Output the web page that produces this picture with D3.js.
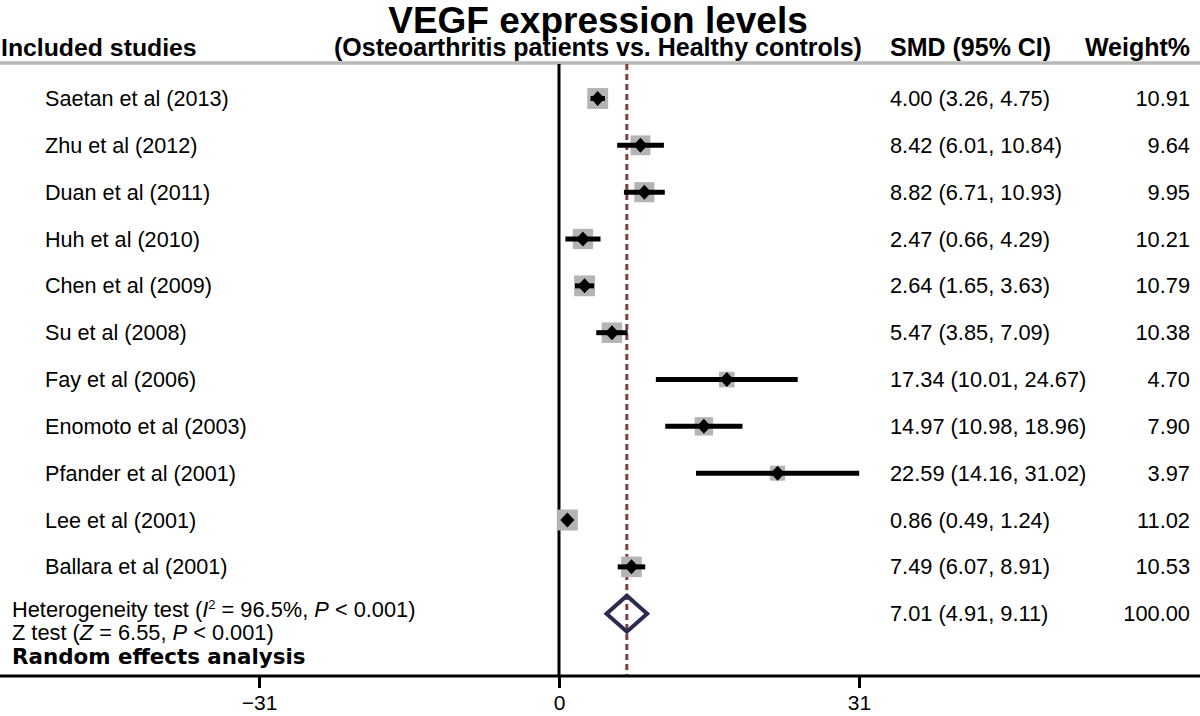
<!DOCTYPE html>
<html><head><meta charset="utf-8">
<script src="https://cdn.jsdelivr.net/npm/d3@7"></script>
<style>
body{margin:0;background:#fff;}
svg{display:block;font-family:"Liberation Sans",Arial,sans-serif;}
</style></head>
<body>
<svg id="c" width="1200" height="716"></svg>
<script>
const studies = ["Saetan et al (2013)","Zhu et al (2012)","Duan et al (2011)","Huh et al (2010)","Chen et al (2009)","Su et al (2008)","Fay et al (2006)","Enomoto et al (2003)","Pfander et al (2001)","Lee et al (2001)","Ballara et al (2001)"];
const smd    = [4.00, 8.42, 8.82, 2.47, 2.64, 5.47, 17.34, 14.97, 22.59, 0.86, 7.49];
const lower  = [3.26, 6.01, 6.71, 0.66, 1.65, 3.85, 10.01, 10.98, 14.16, 0.49, 6.07];
const upper  = [4.75, 10.84, 10.93, 4.29, 3.63, 7.09, 24.67, 18.96, 31.02, 1.24, 8.91];
const weight = [10.91, 9.64, 9.95, 10.21, 10.79, 10.38, 4.70, 7.90, 3.97, 11.02, 10.53];
const pooled = {smd: 7.01, lower: 4.91, upper: 9.11, weight: 100.00};
const tickValues = [-31, 0, 31];
const title = "VEGF expression levels";
const subtitle = "(Osteoarthritis patients vs. Healthy controls)";

const svg = d3.select("#c");
const x = d3.scaleLinear().domain([-31, 31]).range([259, 859]);
const y = d3.scaleLinear().domain([0, 11]).range([98.5, 613.7]);
const box = d3.scaleLinear().domain([3.97, 11.02]).range([15, 21]);
const f2 = d3.format(".2f");
const axisY = 676, topY = 64;

// title & headers
svg.append("text").attr("x", 598).attr("y", 33).attr("text-anchor","middle")
  .attr("font-size", 37).attr("font-weight","bold").text(title);
svg.append("text").attr("x", 1).attr("y", 56).attr("font-size", 24.8).attr("font-weight","bold").text("Included studies");
svg.append("text").attr("x", 598).attr("y", 56).attr("text-anchor","middle").attr("font-size", 25).attr("font-weight","bold").text(subtitle);
svg.append("text").attr("x", 890).attr("y", 56).attr("font-size", 25).attr("font-weight","bold").text("SMD (95% CI)");
svg.append("text").attr("x", 1190).attr("y", 56).attr("text-anchor","end").attr("font-size", 25).attr("font-weight","bold").text("Weight%");
svg.append("line").attr("x1",0).attr("x2",1200).attr("y1",63).attr("y2",63).attr("stroke","#b8b8b8").attr("stroke-width",3.5);

// zero line and pooled dashed line
svg.append("line").attr("x1",x(0)).attr("x2",x(0)).attr("y1",topY).attr("y2",axisY).attr("stroke","#000").attr("stroke-width",3);
svg.append("line").attr("x1",x(pooled.smd)).attr("x2",x(pooled.smd)).attr("y1",topY).attr("y2",axisY)
  .attr("stroke","#8b3a42").attr("stroke-width",3).attr("stroke-dasharray","6,4");

// study rows
const rows = svg.append("g").selectAll("g").data(studies.map((s,i)=>({s,i}))).join("g");
rows.append("rect")
  .attr("x", d=>x(smd[d.i]) - box(weight[d.i])/2)
  .attr("y", d=>y(d.i) - box(weight[d.i])/2)
  .attr("width", d=>box(weight[d.i])).attr("height", d=>box(weight[d.i]))
  .attr("fill","#b4b4b4");
rows.append("line")
  .attr("x1", d=>x(lower[d.i])).attr("x2", d=>x(upper[d.i]))
  .attr("y1", d=>y(d.i)).attr("y2", d=>y(d.i))
  .attr("stroke","#000").attr("stroke-width",5);
rows.append("path")
  .attr("d", d=>{const cx=x(smd[d.i]), cy=y(d.i); return `M${cx-7},${cy}L${cx},${cy-7.5}L${cx+7},${cy}L${cx},${cy+7.5}Z`;})
  .attr("fill","#000");
rows.append("text").attr("x",45).attr("y",d=>y(d.i)).attr("dy","0.35em").attr("font-size",21.6).text(d=>d.s);
rows.append("text").attr("x",890).attr("y",d=>y(d.i)).attr("dy","0.35em").attr("font-size",21.8)
  .text(d=>`${f2(smd[d.i])} (${f2(lower[d.i])}, ${f2(upper[d.i])})`);
rows.append("text").attr("x",1190).attr("y",d=>y(d.i)).attr("dy","0.35em").attr("text-anchor","end").attr("font-size",21.8)
  .text(d=>f2(weight[d.i]));

// pooled
const py = y(11);
svg.append("path")
  .attr("d", `M${x(pooled.lower)},${py}L${x(pooled.smd)},${py-18}L${x(pooled.upper)},${py}L${x(pooled.smd)},${py+18}Z`)
  .attr("fill","none").attr("stroke","#2b2a4f").attr("stroke-width",4);
svg.append("text").attr("x",890).attr("y",py).attr("dy","0.35em").attr("font-size",21.8)
  .text(`${f2(pooled.smd)} (${f2(pooled.lower)}, ${f2(pooled.upper)})`);
svg.append("text").attr("x",1190).attr("y",py).attr("dy","0.35em").attr("text-anchor","end").attr("font-size",21.8)
  .text(f2(pooled.weight));

// stats text (baselines set directly)
const t1 = svg.append("text").attr("x",12).attr("y",617).attr("font-size",21.8);
t1.append("tspan").text("Heterogeneity test (");
t1.append("tspan").attr("font-style","italic").text("I");
t1.append("tspan").attr("font-size",13).attr("dy",-8).text("2");
t1.append("tspan").attr("dy",8).text(" = 96.5%, ");
t1.append("tspan").attr("font-style","italic").text("P");
t1.append("tspan").text(" < 0.001)");
const t2 = svg.append("text").attr("x",12).attr("y",640).attr("font-size",21.8);
t2.append("tspan").text("Z test (");
t2.append("tspan").attr("font-style","italic").text("Z");
t2.append("tspan").text(" = 6.55, ");
t2.append("tspan").attr("font-style","italic").text("P");
t2.append("tspan").text(" < 0.001)");
svg.append("text").attr("x",12).attr("y",664).attr("font-size",21.4)
  .attr("font-family","DejaVu Sans").attr("font-weight","bold").text("Random effects analysis");

// axis
svg.append("line").attr("x1",0).attr("x2",1200).attr("y1",axisY).attr("y2",axisY).attr("stroke","#000").attr("stroke-width",3);
const ax = svg.append("g").attr("transform",`translate(0,${axisY})`)
  .call(d3.axisBottom(x).tickValues(tickValues).tickSize(12).tickPadding(7));
ax.select(".domain").remove();
ax.selectAll(".tick line").attr("stroke","#000").attr("stroke-width",3);
ax.selectAll(".tick text").attr("font-size",21).attr("fill","#000").attr("font-family","Liberation Sans, Arial, sans-serif");
</script>
</body></html>
